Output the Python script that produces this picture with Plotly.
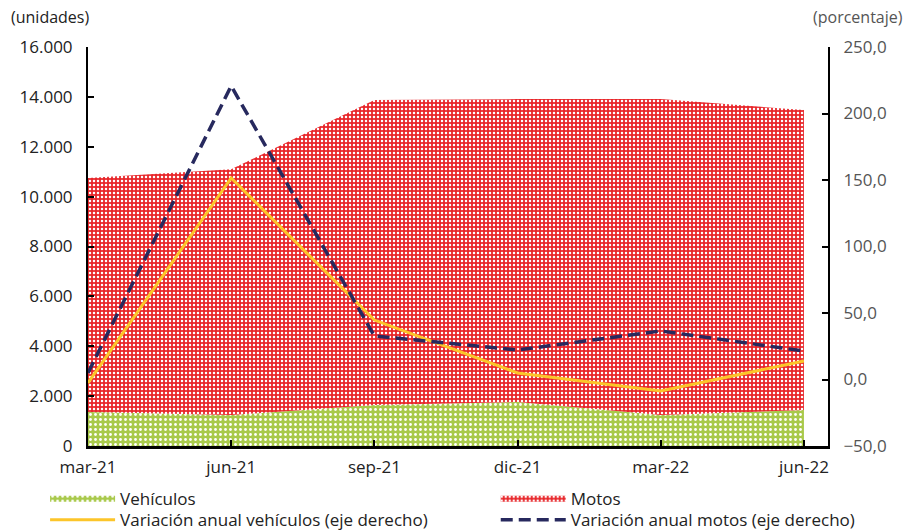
import plotly.graph_objects as go

categorias = ["mar-21", "jun-21", "sep-21", "dic-21", "mar-22", "jun-22"]
vehiculos = [1360, 1240, 1640, 1760, 1240, 1440]
motos = [9390, 9860, 12230, 12150, 12670, 12030]
var_vehiculos = [-2.6, 151.5, 44.7, 4.9, -8.6, 13.9]
var_motos = [5.0, 220.7, 32.7, 22.2, 36.5, 21.4]

xs = list(range(len(categorias)))
FONT = "Open Sans"

fig = go.Figure()
fig.add_trace(go.Scatter(
    x=xs, y=vehiculos, name="Vehículos", stackgroup="a", mode="none",
    fillcolor="#a9c94b", legend="legend",
    fillpattern=dict(shape=".", bgcolor="#a9c94b", fgcolor="#ffffff", size=5, solidity=0.25, fillmode="replace"),
))
fig.add_trace(go.Scatter(
    x=xs, y=motos, name="Motos", stackgroup="a", mode="none",
    fillcolor="#e8262a", legend="legend2",
    fillpattern=dict(shape=".", bgcolor="#e8262a", fgcolor="#ffffff", size=4, solidity=0.3, fillmode="replace"),
))
fig.add_trace(go.Scatter(
    x=xs, y=var_vehiculos, name="Variación anual vehículos (eje derecho)", yaxis="y2",
    mode="lines", line=dict(color="#fcc52a", width=3), legend="legend3",
))
fig.add_trace(go.Scatter(
    x=xs, y=var_motos, name="Variación anual motos (eje derecho)", yaxis="y2",
    mode="lines", line=dict(color="#27295e", width=3.5, dash="12px,6px"), legend="legend4",
))

legend_common = dict(orientation="v", xanchor="left", yanchor="top",
                     traceorder="normal", tracegroupgap=0, itemwidth=65,
                     font=dict(family=FONT, size=17, color="#222"),
                     bgcolor="rgba(0,0,0,0)")

fig.update_layout(
    width=908, height=531,
    margin=dict(l=88, r=80, t=47, b=85, autoexpand=False),
    paper_bgcolor="white", plot_bgcolor="white",
    separators=",.",
    font=dict(family=FONT, size=17, color="#222"),
    showlegend=True,
    legend=dict(x=-0.058, y=-0.088, **legend_common),
    legend2=dict(x=0.551, y=-0.088, **legend_common),
    legend3=dict(x=-0.058, y=-0.141, **legend_common),
    legend4=dict(x=0.551, y=-0.141, **legend_common),
    xaxis=dict(range=[0, 5.168], tickvals=xs, ticktext=categorias, showgrid=False,
               zeroline=False, showline=True, linecolor="#000", linewidth=2.5,
               ticks="inside", ticklen=6, tickcolor="#000", tickwidth=1.5,
               ticklabelstandoff=4,
               tickfont=dict(size=17, color="#222")),
    yaxis=dict(range=[0, 16000], dtick=2000, tickformat=",.0f", showgrid=False,
               zeroline=False, showline=True, linecolor="#000", linewidth=2,
               ticks="inside", ticklen=6, tickcolor="#000", tickwidth=1.5,
               ticklabelstandoff=10,
               tickfont=dict(size=17, color="#222")),
    yaxis2=dict(range=[-50, 250], dtick=50, tickformat=".1f", overlaying="y", side="right",
                showgrid=False, zeroline=False, showline=True, linecolor="#000", linewidth=2,
                ticks="inside", ticklen=6, tickcolor="#000", tickwidth=1.5,
                ticklabelstandoff=10,
                tickfont=dict(size=17, color="#555")),
    annotations=[
        dict(text="(unidades)", xref="paper", yref="paper", x=-0.107, y=1.042,
             xanchor="left", yanchor="bottom", showarrow=False,
             font=dict(family=FONT, size=16, color="#222")),
        dict(text="(porcentaje)", xref="paper", yref="paper", x=1.104, y=1.042,
             xanchor="right", yanchor="bottom", showarrow=False,
             font=dict(family=FONT, size=16, color="#555")),
    ],
)

fig.write_html(
    "out.html",
    config={"displayModeBar": False},
    post_script="document.body.style.margin='0';document.body.style.overflow='hidden';",
)
